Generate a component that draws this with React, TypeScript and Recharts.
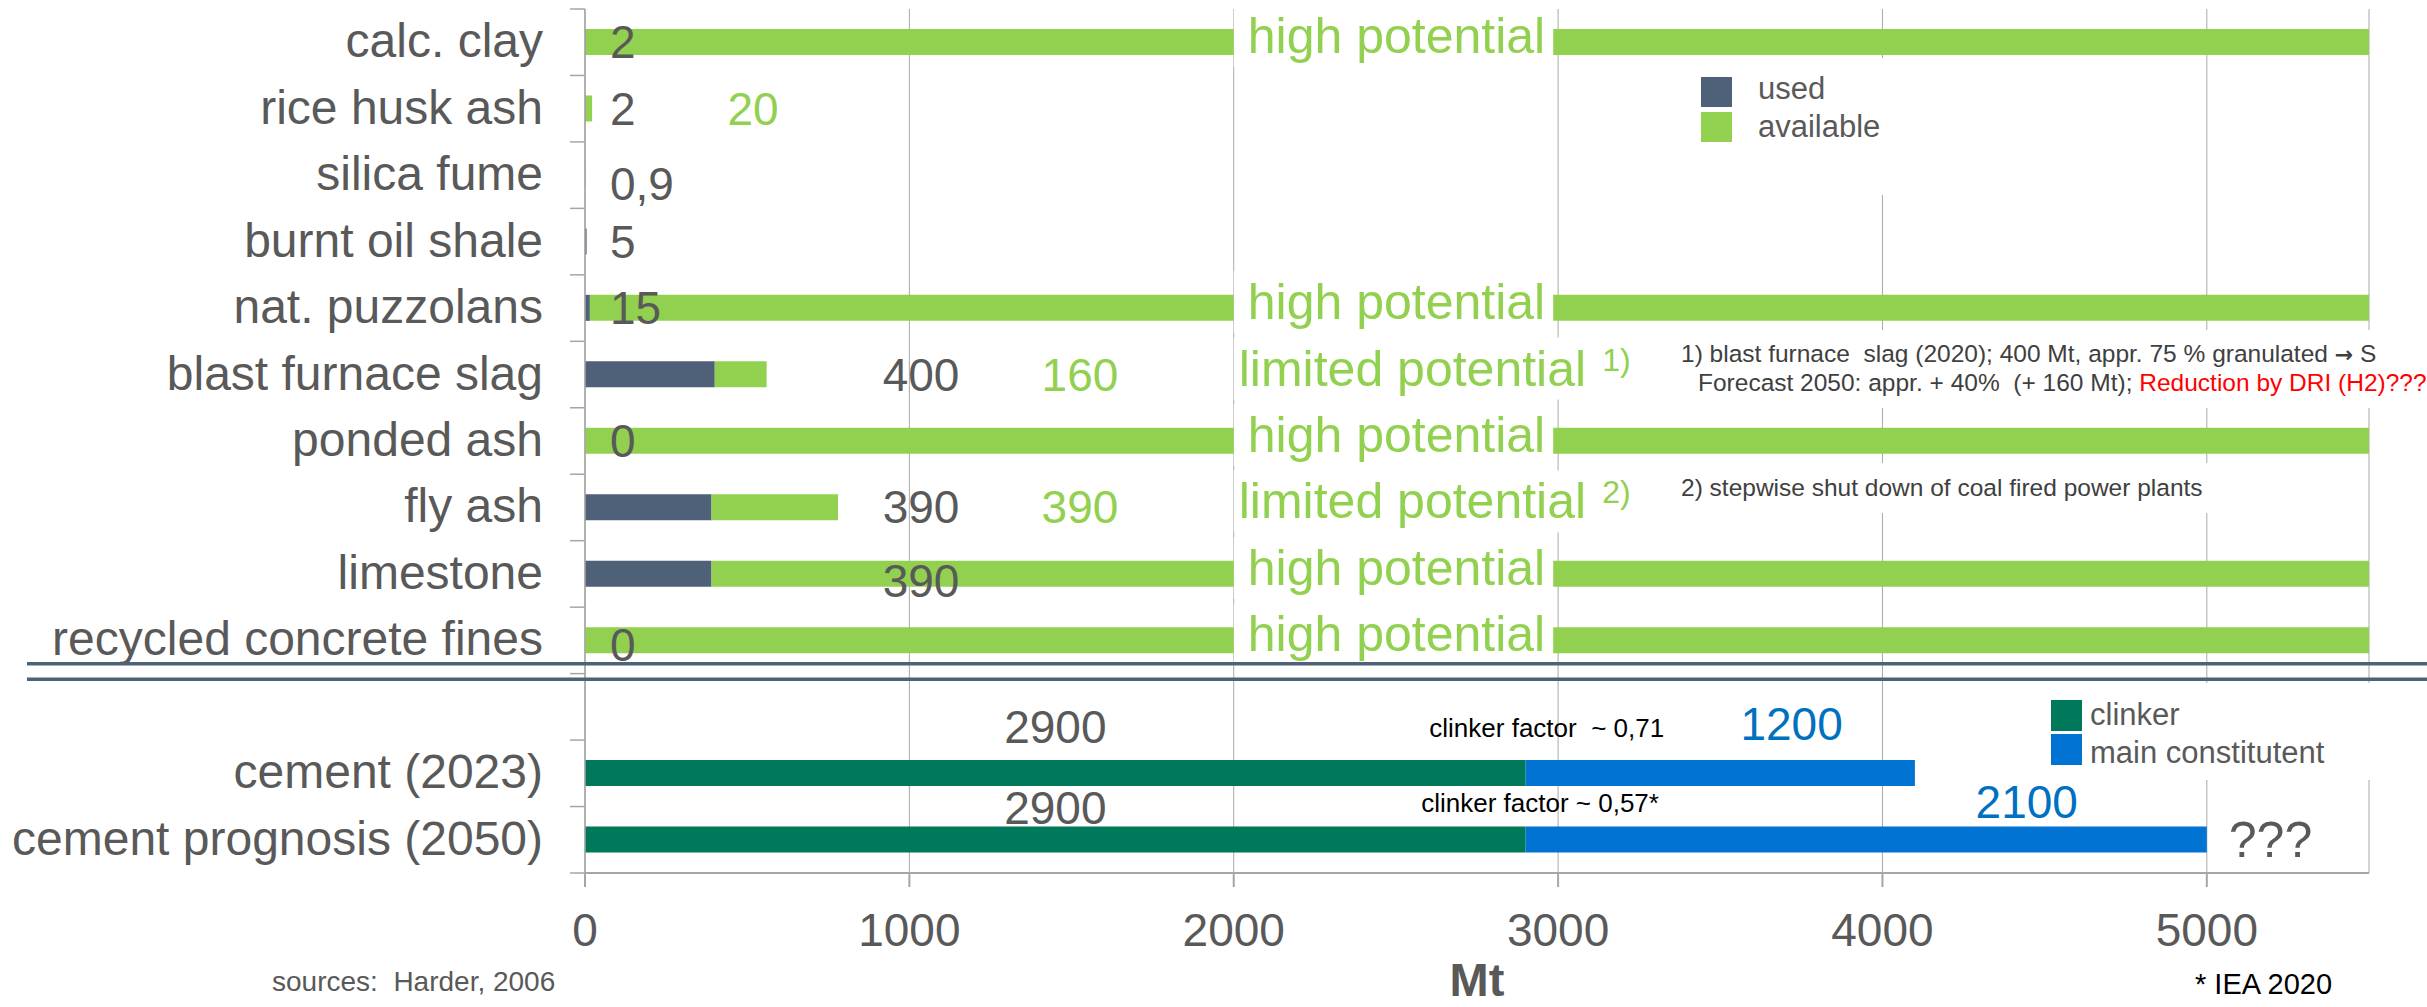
import React from 'react';
import { BarChart, Bar, XAxis, YAxis, CartesianGrid, ReferenceArea, ReferenceDot } from 'recharts';

// SCM supply, Mt
const materials = [
  'calc. clay',
  'rice husk ash',
  'silica fume',
  'burnt oil shale',
  'nat. puzzolans',
  'blast furnace slag',
  'ponded ash',
  'fly ash',
  'limestone',
  'recycled concrete fines',
];
const usedMt = [2, 2, 0.9, 5, 15, 400, 0, 390, 390, 0];
const availableMt = [5498, 20, 0, 0, 5485, 160, 5500, 390, 5110, 5500];
const potential = ['high', '', '', '', 'high', 'limited', 'high', 'limited', 'high', 'high'];
const footnoteMark = ['', '', '', '', '', '1)', '', '2)', '', ''];

// cement production, Mt
const cementRows = ['cement (2023)', 'cement prognosis (2050)'];
const clinkerMt = [2900, 2900];
const mainConstituentMt = [1200, 2100];
const clinkerFactor = ['clinker factor  ~ 0,71', 'clinker factor ~ 0,57*'];

const xTicks = [0, 1000, 2000, 3000, 4000, 5000];

// layout
const W = 2427;
const H = 1007;
const MARGIN = { top: 9, right: 58, bottom: 4, left: 0 };
const Y_AXIS_W = 585;
const X_AXIS_H = 130;
const X_MAX = 5500;

const USED = '#4f6079';
const AVAIL = '#92d050';
const CLINKER = '#00785a';
const MAIN = '#0073d3';
const TEXT = '#595959';
const NOTE = '#404040';
const AXIS = '#a6a6a6';
const GRID = '#a9a9a9';
const BLUE_TEXT = '#0070c0';
const FONT = "'Liberation Sans', Arial, sans-serif";

// the potential tag is drawn in a gap cut out of the available bar
const TAG_FROM = 2000;
const TAG_TO = 2985;
const LIMITED_TAG_TO = 3265;

// label columns on the Mt axis
const USED_COL = 1036;
const AVAIL_COL_SMALL = 518;
const AVAIL_COL = 1526;
const MAIN_COL = [3720, 4445];
const FACTOR_COL = [2603, 2578];
const usedNudge: Record<string, number> = { 'silica fume': 9, limestone: 7, 'recycled concrete fines': 5 };

const rows = [
  ...materials.map((name, i) => {
    const high = potential[i] === 'high';
    const total = usedMt[i] + availableMt[i];
    return {
      name,
      used: usedMt[i],
      availA: high ? TAG_FROM - usedMt[i] : availableMt[i],
      gap: high ? TAG_TO - TAG_FROM : 0,
      availB: high ? total - TAG_TO : 0,
      clinker: 0,
      main: 0,
    };
  }),
  { name: '', used: 0, availA: 0, gap: 0, availB: 0, clinker: 0, main: 0 },
  ...cementRows.map((name, i) => ({
    name,
    used: 0,
    availA: 0,
    gap: 0,
    availB: 0,
    clinker: clinkerMt[i],
    main: mainConstituentMt[i],
  })),
];

const BAND = (H - MARGIN.top - MARGIN.bottom - X_AXIS_H) / rows.length;
const lastRow = rows[rows.length - 1].name;

const fmt = (v: number) => String(v).replace('.', ',');

// category label plus Excel-style tick marks on the band borders
const CategoryTick = (props: any) => {
  const { x, y, payload } = props;
  const half = BAND / 2;
  return (
    <g>
      <line x1={x - 15} x2={x} y1={y - half} y2={y - half} stroke={AXIS} strokeWidth={1.5} />
      {payload.value === lastRow && (
        <line x1={x - 15} x2={x} y1={y + half} y2={y + half} stroke={AXIS} strokeWidth={1.5} />
      )}
      <text x={x - 42} y={y + 15} textAnchor="end" fontSize={48} fill={TEXT}>
        {payload.value}
      </text>
    </g>
  );
};

type SayOpts = { dx?: number; dy?: number; size?: number; color?: string; anchor?: 'start' | 'middle' | 'end' };
const say = (text: string, { dx = 0, dy = 16, size = 46, color = TEXT, anchor = 'middle' }: SayOpts = {}) =>
  (p: any) => {
    const vb = p.viewBox ?? p;
    return (
      <text x={vb.x + dx} y={vb.y + dy} fontSize={size} fill={color} textAnchor={anchor} style={{ whiteSpace: 'pre' }}>
        {text}
      </text>
    );
  };

const dot = (key: string, x: number, y: string, content: (p: any) => React.ReactNode) => (
  <ReferenceDot key={key} x={x} y={y} r={0} fill="none" stroke="none" ifOverflow="visible" label={content} />
);

const highTag = (p: any) => {
  const vb = p.viewBox;
  const cy = vb.y + vb.height / 2;
  return (
    <g>
      <rect x={vb.x} y={cy - 37} width={vb.width} height={62} fill="#fff" />
      <text x={vb.x + 14} y={cy + 11} fontSize={50} fill={AVAIL}>
        high potential
      </text>
    </g>
  );
};

const limitedTag = (mark: string) => (p: any) => {
  const vb = p.viewBox;
  const cy = vb.y + vb.height / 2;
  return (
    <g>
      <rect x={vb.x} y={cy - 37} width={vb.width} height={62} fill="#fff" />
      <text x={vb.x + 5} y={cy + 11} fontSize={50} fill={AVAIL}>
        limited potential
        <tspan dx={16} dy={-15} fontSize={32}>
          {mark}
        </tspan>
      </text>
    </g>
  );
};

export default function App() {
  return (
    <div style={{ position: 'absolute', left: 0, top: 0, width: W, height: H, fontFamily: FONT, background: '#fff' }}>
      <div style={{ position: 'absolute', left: 0, top: 0 }}>
        <BarChart width={W} height={H} data={rows} layout="vertical" margin={MARGIN} barSize={26}>
          <CartesianGrid horizontal={false} stroke={GRID} />
          <XAxis
            type="number"
            domain={[0, X_MAX]}
            ticks={xTicks}
            interval={0}
            allowDataOverflow
            height={X_AXIS_H}
            stroke={AXIS}
            strokeWidth={2}
            tickSize={14}
            tickMargin={26}
            tick={{ fill: TEXT, fontSize: 46 }}
            label={(p: any) => {
              const vb = p.viewBox;
              return (
                <text x={vb.x + vb.width / 2} y={vb.y + vb.height - 7} textAnchor="middle" fontSize={47} fontWeight={700} fill={TEXT}>
                  Mt
                </text>
              );
            }}
          />
          <YAxis
            type="category"
            dataKey="name"
            width={Y_AXIS_W}
            interval={0}
            stroke={AXIS}
            strokeWidth={1.5}
            tickLine={false}
            tickSize={0}
            tickMargin={0}
            tick={(p: any) => <CategoryTick {...p} />}
          />

          {materials.map((name, i) => {
            if (potential[i] === 'high') {
              return (
                <ReferenceArea
                  key={'tag' + i}
                  x1={TAG_FROM}
                  x2={TAG_TO}
                  y1={name}
                  y2={name}
                  fill="#fff"
                  fillOpacity={0}
                  stroke="none"
                  ifOverflow="visible"
                  label={highTag}
                />
              );
            }
            if (potential[i] === 'limited') {
              return (
                <ReferenceArea
                  key={'tag' + i}
                  x1={TAG_FROM}
                  x2={LIMITED_TAG_TO}
                  y1={name}
                  y2={name}
                  fill="#fff"
                  fillOpacity={0}
                  stroke="none"
                  ifOverflow="visible"
                  label={limitedTag(footnoteMark[i])}
                />
              );
            }
            return null;
          })}

          <Bar dataKey="used" stackId="s" fill={USED} isAnimationActive={false} />
          <Bar dataKey="availA" stackId="s" fill={AVAIL} isAnimationActive={false} />
          <Bar dataKey="gap" stackId="s" fill="transparent" isAnimationActive={false} />
          <Bar dataKey="availB" stackId="s" fill={AVAIL} isAnimationActive={false} />
          <Bar dataKey="clinker" stackId="s" fill={CLINKER} isAnimationActive={false} />
          <Bar dataKey="main" stackId="s" fill={MAIN} isAnimationActive={false} />

          {materials.map((name, i) => {
            const nudge = 16 + (usedNudge[name] ?? 0);
            return usedMt[i] < 100
              ? dot('u' + i, 0, name, say(fmt(usedMt[i]), { dx: 25, dy: nudge, anchor: 'start' }))
              : dot('u' + i, USED_COL, name, say(fmt(usedMt[i]), { dy: nudge }));
          })}
          {materials.map((name, i) =>
            potential[i] !== 'high' && availableMt[i] > 0
              ? dot(
                  'a' + i,
                  usedMt[i] + availableMt[i] < 100 ? AVAIL_COL_SMALL : AVAIL_COL,
                  name,
                  say(fmt(availableMt[i]), { color: AVAIL })
                )
              : null
          )}

          {cementRows.map((name, i) => dot('c' + i, clinkerMt[i] / 2, name, say(fmt(clinkerMt[i]), { dy: i === 0 ? -30 : -16 })))}
          {cementRows.map((name, i) =>
            dot('m' + i, MAIN_COL[i], name, say(fmt(mainConstituentMt[i]), { color: BLUE_TEXT, dy: i === 0 ? -33 : -22 }))
          )}
          {cementRows.map((name, i) =>
            dot('f' + i, FACTOR_COL[i], name, say(clinkerFactor[i], { size: 26, color: '#000', anchor: 'start', dy: i === 0 ? -36 : -28 }))
          )}
          {dot('q', clinkerMt[1] + mainConstituentMt[1], cementRows[1], say('???', { size: 50, dx: 22, dy: 17, anchor: 'start' }))}
        </BarChart>
      </div>

      <svg width={W} height={H} style={{ position: 'absolute', left: 0, top: 0, pointerEvents: 'none' }}>
        {/* separator between SCMs and cement */}
        <rect x={27} y={662} width={W - 27} height={3.5} fill={USED} />
        <rect x={27} y={677.5} width={W - 27} height={3.5} fill={USED} />

        {/* legend: used / available */}
        <rect x={1690} y={58} width={250} height={137} fill="#fff" />
        <rect x={1701} y={77} width={31} height={30} fill={USED} />
        <rect x={1701} y={112} width={31} height={30} fill={AVAIL} />
        <text x={1758} y={99} fontSize={31} fill={TEXT}>used</text>
        <text x={1758} y={137} fontSize={31} fill={TEXT}>available</text>

        {/* legend: clinker / main constituent */}
        <rect x={2040} y={683} width={387} height={97} fill="#fff" />
        <rect x={2051} y={700} width={31} height={31} fill={CLINKER} />
        <rect x={2051} y={734} width={31} height={31} fill={MAIN} />
        <text x={2090} y={725} fontSize={31} fill={TEXT}>clinker</text>
        <text x={2090} y={763} fontSize={31} fill={TEXT}>main constitutent</text>

        {/* footnotes */}
        <rect x={1672} y={330} width={W - 1672} height={78} fill="#fff" />
        <text x={1681} y={362} fontSize={24.5} fill={NOTE} style={{ whiteSpace: 'pre' }}>
          {'1) blast furnace  slag (2020); 400 Mt, appr. 75 % granulated '}
          <tspan fontFamily="'DejaVu Sans', sans-serif" fontWeight={700} fontSize={22}>→</tspan>
          {' S'}
        </text>
        <text x={1698} y={391} fontSize={24.5} fill={NOTE} style={{ whiteSpace: 'pre' }}>
          {'Forecast 2050: appr. + 40%  (+ 160 Mt); '}
          <tspan fill="#ff0000">Reduction by DRI (H2)???</tspan>
        </text>
        <rect x={1672} y={463} width={570} height={50} fill="#fff" />
        <text x={1681} y={496} fontSize={24.5} fill={NOTE}>
          2) stepwise shut down of coal fired power plants
        </text>

        <text x={272} y={991} fontSize={28} fill={TEXT} style={{ whiteSpace: 'pre' }}>
          sources:  Harder, 2006
        </text>
        <text x={2195} y={994} fontSize={29} fill="#000">
          * IEA 2020
        </text>
      </svg>
    </div>
  );
}
